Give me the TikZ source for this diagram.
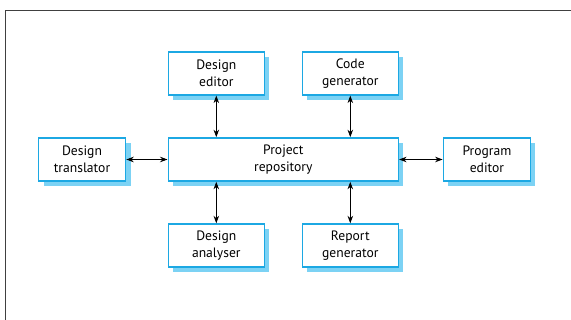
\documentclass[tikz,border=0pt]{standalone}
\usepackage{fontspec}
\setmainfont{PT Sans}
\usepackage{tikz}
\usetikzlibrary{
    arrows.meta,
    shadows,
    positioning
}
\definecolor{toolblue}{HTML}{1CA8E3}
\definecolor{shadeblue}{HTML}{7CD2F4}

\tikzset{
    tool/.style={draw=toolblue, line width=1.6pt, fill=white, align=center,
        minimum width=96pt, minimum height=43pt, inner sep=2pt,
        font=\fontsize{13.6}{16.8}\selectfont,
        drop shadow={shadow xshift=5pt, shadow yshift=-5pt, fill=shadeblue, opacity=1}},
    link/.style={{Stealth[length=7.5pt,width=5.5pt]}-{Stealth[length=7.5pt,width=5.5pt]}, line width=0.8pt}
}

\begin{document}
\begin{tikzpicture}[x=1pt, y=-1pt]
                        \useasboundingbox (0, 0) rectangle (571, 320);
                        % outer frame
                        \draw[black!75, line width=1.2pt] (5.5, 320) -- (5.5, 10.5) -- (571, 10.5);
                        % tools round the repository
                        \node[tool, minimum width=230pt] (repo) at (283.3, 159.5) {Project\\repository};
                        \node[tool] (ded) at (216.3, 73.3) {Design\\editor};
                        \node[tool] (cgen) at (350.3, 73.3) {Code\\generator};
                        \node[tool, minimum width=87pt] (dtrans) at (82, 159.5) {Design\\translator};
                        \node[tool, minimum width=87pt] (ped) at (486.9, 159.5) {Program\\editor};
                        \node[tool] (dana) at (216.3, 245.6) {Design\\analyser};
                        \node[tool] (rgen) at (350.3, 245.6) {Report\\generator};
                        \draw[link]
                        (ded.south) -- (ded.south |- repo.north);
                        \draw[link]
                        (cgen.south) -- (cgen.south |- repo.north);
                        \draw[link]
                        (dana.north) -- (dana.north |- repo.south);
                        \draw[link]
                        (rgen.north) -- (rgen.north |- repo.south);
                        \draw[link] (dtrans.east) -- (repo.west);
                        \draw[link] (repo.east) -- (ped.west);
                    \end{tikzpicture}
\end{document}
